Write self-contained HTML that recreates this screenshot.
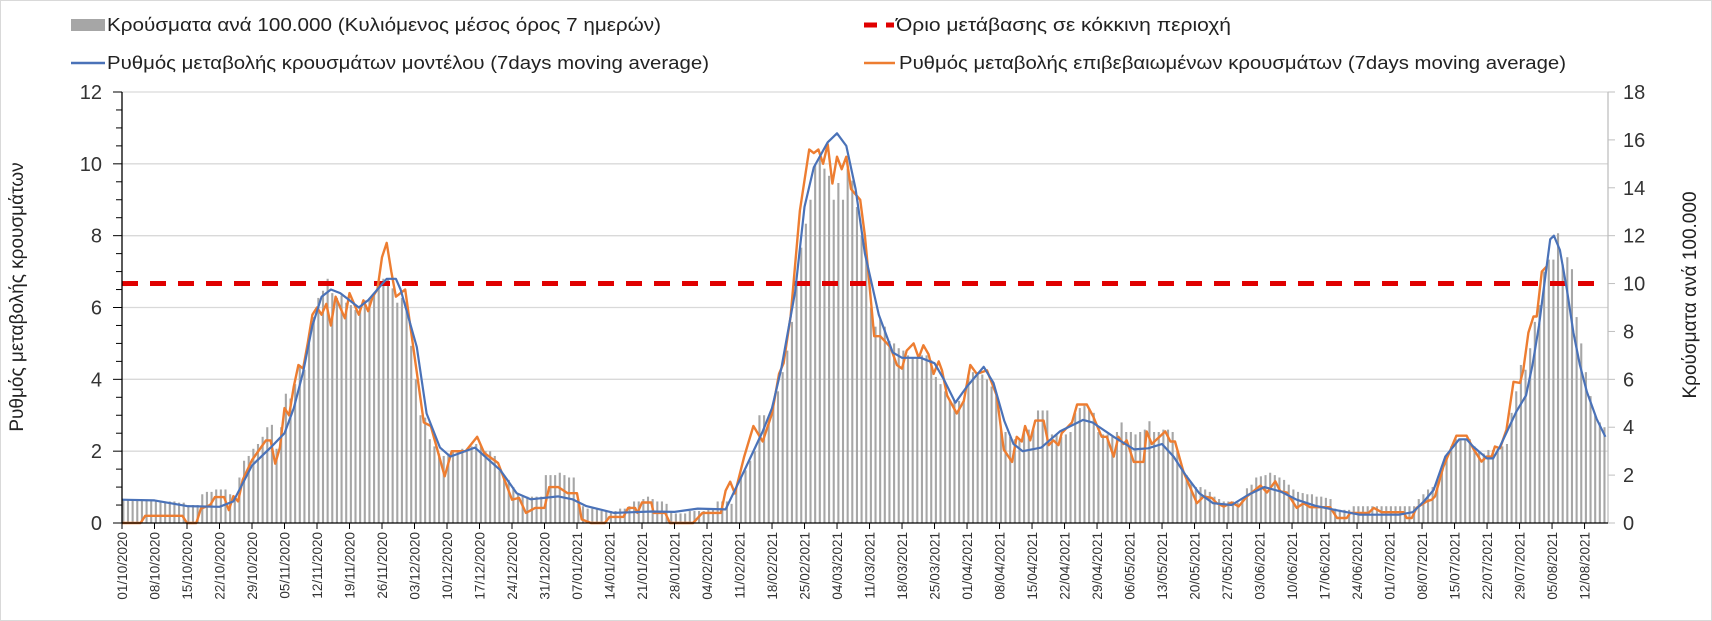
<!DOCTYPE html>
<html><head><meta charset="utf-8">
<style>
html,body{margin:0;padding:0;background:#fff;}
svg{display:block;font-family:"Liberation Sans","DejaVu Sans",sans-serif;}
</style></head>
<body>
<svg id="chart" width="1712" height="621" viewBox="0 0 1712 621" xmlns="http://www.w3.org/2000/svg">
<rect x="0.5" y="0.5" width="1711" height="620" fill="#fff" stroke="#d9d9d9"/>
<g id="grid"></g>
<g id="bars"></g>
<g id="lines"></g>
<g id="axes"></g>
<g>
  <g>
    <rect x="71" y="19" width="34" height="12" fill="#a6a6a6"/>
    <text x="107" y="31" font-size="18" fill="#222" textLength="554" lengthAdjust="spacingAndGlyphs">Κρούσματα ανά 100.000 (Κυλιόμενος μέσος όρος 7 ημερών)</text>
  </g>
  <g>
    <line x1="71" y1="63" x2="105" y2="63" stroke="#4a72b8" stroke-width="2.5"/>
    <text x="107" y="69" font-size="18" fill="#222" textLength="602" lengthAdjust="spacingAndGlyphs">Ρυθμός μεταβολής κρουσμάτων μοντέλου (7days moving average)</text>
  </g>
  <g>
    <line x1="864" y1="25" x2="894" y2="25" stroke="#e00000" stroke-width="5" stroke-dasharray="13,9"/>
    <text x="896" y="31" font-size="18" fill="#222" textLength="335" lengthAdjust="spacingAndGlyphs">Όριο μετάβασης σε κόκκινη περιοχή</text>
  </g>
  <g>
    <line x1="864" y1="63" x2="895" y2="63" stroke="#ed7d31" stroke-width="2.5"/>
    <text x="899" y="69" font-size="18" fill="#222" textLength="667" lengthAdjust="spacingAndGlyphs">Ρυθμός μεταβολής επιβεβαιωμένων κρουσμάτων (7days moving average)</text>
  </g>
</g>
<text x="0" y="0" font-size="19" fill="#222" text-anchor="middle" transform="translate(23,297) rotate(-90)">Ρυθμός μεταβολής κρουσμάτων</text>
<text x="0" y="0" font-size="19" fill="#222" text-anchor="middle" transform="translate(1696,295) rotate(-90)">Κρούσματα ανά 100.000</text>
</svg>
<script>
const leftTicks = [0,2,4,6,8,10,12];
const rightTicks = [0,2,4,6,8,10,12,14,16,18];
const threshold = 6.667;
const xLabels = ["01/10/2020","08/10/2020","15/10/2020","22/10/2020","29/10/2020","05/11/2020","12/11/2020","19/11/2020","26/11/2020","03/12/2020","10/12/2020","17/12/2020","24/12/2020","31/12/2020","07/01/2021","14/01/2021","21/01/2021","28/01/2021","04/02/2021","11/02/2021","18/02/2021","25/02/2021","04/03/2021","11/03/2021","18/03/2021","25/03/2021","01/04/2021","08/04/2021","15/04/2021","22/04/2021","29/04/2021","06/05/2021","13/05/2021","20/05/2021","27/05/2021","03/06/2021","10/06/2021","17/06/2021","24/06/2021","01/07/2021","08/07/2021","15/07/2021","22/07/2021","29/07/2021","05/08/2021","12/08/2021"];
const barValues = [
.95,.95,.95,.95,.95,.95,.95,.9,.9,.9,
.9,.9,.85,.85,.75,.75,.75,1.2,1.3,1.3,
1.4,1.4,1.4,1.2,1.1,1.9,2.6,2.8,3.1,3.3,
3.6,4.0,4.1,3.1,4.0,5.4,5.2,5.8,6.6,6.4,
7.5,8.6,9.4,9.7,10.2,9.6,9.4,9.5,9.2,9.1,
8.9,9.0,9.3,9.4,9.6,10.0,10.2,10.2,9.8,9.2,
9.4,9.3,7.4,6.0,4.5,4.4,3.5,3.2,2.9,2.8,
2.9,3.0,3.0,3.1,3.1,3.2,3.3,3.2,3.0,3.0,
2.8,2.2,2.0,1.8,1.5,1.2,1.1,1.1,1.1,1.1,
1.1,2.0,2.0,2.0,2.1,2.0,1.9,1.9,1.0,0.7,
0.6,0.6,0.6,0.5,0.5,0.5,0.5,0.6,0.6,0.7,
0.9,0.9,1.0,1.1,1.0,0.9,0.9,0.8,0.5,0.4,
0.4,0.4,0.5,0.5,0.5,0.5,0.6,0.6,0.9,0.9,
0.9,0.8,1.5,1.9,2.2,2.6,3.0,4.5,4.5,4.4,
5.0,5.5,6.3,7.2,8.4,10.0,11.5,12.5,13.5,15.0,
15.3,14.8,14.5,13.5,14.2,13.5,14.8,14.3,13.2,12.0,
11.2,9.0,8.2,8.5,8.2,7.6,7.5,7.3,7.2,7.0,
6.9,6.9,7.0,7.0,6.8,6.1,5.8,5.5,5.1,5.1,
5.1,5.1,6.2,6.3,6.3,6.2,6.0,5.7,5.4,4.0,
3.8,3.6,3.5,3.5,3.9,3.9,3.9,4.7,4.7,4.7,
3.7,3.7,3.6,3.7,3.8,4.6,4.8,4.9,4.8,4.6,
3.8,3.7,3.7,3.6,3.8,4.2,3.8,3.8,3.7,3.8,
3.9,4.25,3.8,3.8,3.9,3.9,3.8,3.0,2.2,2.0,
1.7,1.5,1.5,1.4,1.3,1.1,1.0,0.9,0.9,0.9,
0.85,1.0,1.45,1.6,1.9,1.95,2.0,2.1,2.0,1.9,
1.8,1.6,1.4,1.3,1.25,1.2,1.2,1.1,1.1,1.05,
1.0,0.6,0.55,0.55,0.55,0.7,0.7,0.7,0.7,0.7,
0.7,0.7,0.7,0.7,0.7,0.7,0.7,0.7,0.7,1.0,
1.2,1.4,1.5,1.8,2.4,2.8,3.2,3.5,3.5,3.5,
3.5,3.2,3.0,2.9,3.05,3.05,3.1,3.2,3.3,4.6,
5.5,6.6,6.4,7.3,8.4,9.1,10.5,11.0,11.0,12.1,
10.8,11.1,10.6,8.6,7.5,6.3,5.3,4.5,4.2,4.0];
const modelDays = [0,7,14,21,24,28,32,35,37,39,41,43,45,47,49,51,53,55,57,59,60,63.5,65.6,68.5,70.7,76,81.5,85,88,94,97,100,106,114,119,124,130,134,138,140,142,145,147,149,152,154,156,158,160,163,166,168,172,175,177,179.5,182,185.6,187.7,190,192,194,198,202,207,209,213.6,218,221,224,226.5,229,232,235,239,242.5,246,249.5,253,257,261,266.6,275,278,280.4,282.5,285,288,289.6,291,294,295.3,296.8,300.3,302.4,303.8,305.2,306.6,307.6,308.4,309.7,311.2,312.6,314,315.5,317.6,319.5];
const modelValues = [.65,.63,.47,.45,.6,1.6,2.1,2.5,3.2,4.2,5.5,6.3,6.5,6.4,6.2,6.0,6.2,6.5,6.8,6.8,6.5,4.9,3.05,2.1,1.85,2.1,1.47,.83,.66,.74,.66,.47,.28,.32,.31,.4,.38,1.45,2.55,3.2,4.3,6.45,8.8,9.9,10.6,10.85,10.5,9.3,7.5,5.8,4.75,4.6,4.6,4.45,4.0,3.35,3.8,4.35,3.9,2.85,2.2,2.0,2.1,2.55,2.87,2.8,2.4,2.05,2.08,2.2,1.85,1.35,.83,.55,.5,.78,1.0,.88,.65,.48,.37,.23,.23,.3,.6,.92,1.85,2.33,2.33,2.13,1.8,1.8,2.13,3.1,3.55,4.4,5.5,6.9,7.9,8.0,7.6,6.5,5.3,4.4,3.65,2.9,2.4];
const confirmedDays = [0,4,5,13,14,16,17,19,20,22,23,24,25,26,28,31,32,33,34,35,36,37,38,39,40,41,42,43,44,45,46,47,48,49,50,51,52,53,54,55,56,57,58,59,61,65,66.5,69.5,71,74,76.5,78,81,84,85.5,87,89,91,92,94,96,98,99,101,104,105,108,109,110.5,111,112,114,114.5,117,118,123,125,129,130,131,132,134,136,138,140,141.5,142.5,144,146,148,149,150,151,152,153,154,155,156,157,159,160,162,163.3,165.5,166.9,168,169,170.5,171.6,172.6,173.7,174.8,175.9,176.6,177.7,179.8,181.3,182.7,184.1,186.3,188.4,189.9,191.7,192.7,193.8,194.5,195.6,196.7,198.5,199.6,200.6,201.7,202.4,204.6,205.7,207.8,209.2,211,212.1,213.6,214.6,215.7,216.4,217.9,220,220.7,221.8,224.7,225.8,226.8,228.6,231.5,233,234.7,235.8,237.3,239,240.5,242.3,245.2,246.6,248.4,249.5,250.9,253,254.5,255.9,260.2,261.7,263.8,264.5,268.5,269.6,271.3,276,276.7,277.8,278.8,281,282.1,282.8,284.6,287.4,289.6,291,292.8,293.9,295,295.7,296.8,298.2,299.7,301.1,301.8,302.9,304,304.7,305.8,306.9];
const confirmedValues = [0,0,.2,.2,0,0,.4,.5,.72,.72,.36,.75,.6,1.2,1.75,2.3,2.3,1.65,2.1,3.2,3.0,3.8,4.4,4.3,5.0,5.8,6.0,5.8,6.1,5.5,6.3,6.0,5.7,6.4,6.1,5.8,6.2,5.9,6.3,6.5,7.4,7.8,7.0,6.3,6.5,2.8,2.7,1.3,2.0,2.0,2.4,1.95,1.67,.65,.7,.28,.42,.42,1.0,1.0,.83,.83,.1,0,0,.17,.17,.42,.42,.28,.57,.57,.28,.28,0,0,.28,.28,.9,1.15,.82,1.85,2.7,2.27,3.05,4.15,4.45,5.75,8.7,10.4,10.3,10.4,10.0,10.55,9.45,10.2,9.85,10.2,9.3,9.0,8.0,5.2,5.2,4.9,4.4,4.3,4.8,5.0,4.6,4.95,4.7,4.15,4.5,4.25,3.55,3.05,3.4,4.4,4.15,4.25,3.55,2.05,1.7,2.4,2.27,2.7,2.3,2.85,2.85,2.17,2.3,2.17,2.5,2.8,3.3,3.3,2.96,2.4,2.4,1.85,2.4,2.2,2.3,1.7,1.7,2.55,2.2,2.55,2.27,2.27,1.43,.55,.74,.7,.55,.46,.57,.46,.74,1.04,.85,1.16,.88,.85,.42,.55,.44,.44,.14,.14,.28,.28,.42,.3,.3,.14,.14,.42,.6,.65,.74,1.57,2.43,2.43,2.08,1.71,1.85,1.85,2.13,2.08,2.6,3.93,3.9,4.26,5.3,5.75,5.75,7.0,7.15];

const NS = "http://www.w3.org/2000/svg";
const X0 = 122, DAYPX = 4.643, Y0 = 523, YTOP = 92, XEND = 1608;
function xScale(d){ return X0 + d*DAYPX; }
function yLeft(v){ return Y0 - v*(Y0-YTOP)/12; }
function yRight(v){ return Y0 - v*(Y0-YTOP)/18; }
function mk(tag, attrs, parent){ const e=document.createElementNS(NS,tag); for(const k in attrs) e.setAttribute(k,attrs[k]); parent.appendChild(e); return e; }

const grid = document.getElementById('grid');
leftTicks.forEach(v=>{ if(v===0) return;
  const g = mk('line',{x1:X0,x2:XEND,y1:yLeft(v),y2:yLeft(v),stroke:'#d9d9d9','stroke-width':1.3},grid);
  
  
});

const bars = document.getElementById('bars');
barValues.forEach((v,i)=>{
  const x = xScale(i)+1.3;
  const b = mk('rect',{x:x-1,y:yRight(v),width:2.1,height:Y0-yRight(v),fill:'#a6a6a6'},bars);
  
  
});

const lines = document.getElementById('lines');
const thr = mk('line',{x1:X0,x2:1595,y1:yLeft(threshold),y2:yLeft(threshold),stroke:'#e00000','stroke-width':5,'stroke-dasharray':'16,12'},lines);


function pathOf(ds,vs){ return ds.map((d,i)=>(i?'L':'M')+xScale(d).toFixed(1)+','+yLeft(vs[i]).toFixed(1)).join(' '); }
const conf = mk('path',{d:pathOf(confirmedDays,confirmedValues),fill:'none',stroke:'#ed7d31','stroke-width':2.4,'stroke-linejoin':'round'},lines);


const model = mk('path',{d:pathOf(modelDays,modelValues),fill:'none',stroke:'#4a72b8','stroke-width':2.2,'stroke-linejoin':'round'},lines);



const axes = document.getElementById('axes');
const la = mk('line',{x1:X0,x2:X0,y1:YTOP,y2:Y0,stroke:'#000','stroke-width':1.3},axes);


for(let v=0; v<=12; v+=0.5){
  const major = v%2===0;
  const t = mk('line',{x1:X0-(major?9:6),x2:X0,y1:yLeft(v),y2:yLeft(v),stroke:'#000','stroke-width':1},axes);
  
  
}
leftTicks.forEach(v=>{
  const t = mk('text',{x:102,y:yLeft(v)+7,'font-size':20,fill:'#333','text-anchor':'end'},axes);
  t.textContent = v;
  
  
});
const ra = mk('line',{x1:XEND,x2:XEND,y1:YTOP,y2:Y0,stroke:'#bfbfbf','stroke-width':1.3},axes);


rightTicks.forEach(v=>{
  const tk = mk('line',{x1:XEND,x2:XEND+7,y1:yRight(v),y2:yRight(v),stroke:'#bfbfbf','stroke-width':1},axes);
  
  
  const t = mk('text',{x:1623,y:yRight(v)+7,'font-size':20,fill:'#333'},axes);
  t.textContent = v;
  
  
});
const xa = mk('line',{x1:X0,x2:XEND,y1:Y0,y2:Y0,stroke:'#000','stroke-width':1.3},axes);


xLabels.forEach((lab,i)=>{
  const x = xScale(i*7);
  const tk = mk('line',{x1:x,x2:x,y1:Y0,y2:Y0+6,stroke:'#000','stroke-width':1},axes);
  
  
  const t = mk('text',{x:0,y:0,'font-size':13.5,fill:'#333','text-anchor':'end',transform:'translate('+(x+5)+','+(Y0+9)+') rotate(-90)'},axes);
  t.textContent = lab;
  
  
});
</script>
</body></html>
